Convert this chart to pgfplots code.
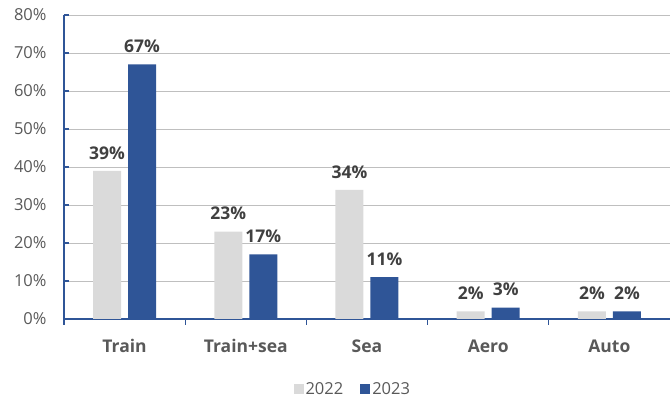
\documentclass[border=0pt]{standalone}
\usepackage{fontspec}
\setmainfont{Open Sans}
\usepackage{pgfplots}
\pgfplotsset{compat=1.18}
\definecolor{gr}{HTML}{DADADA}
\definecolor{bl}{HTML}{2F5597}
\definecolor{grid}{HTML}{D9D9D9}
\definecolor{txt}{HTML}{595959}
\definecolor{lbl}{HTML}{404040}
\begin{document}
\begin{tikzpicture}
\path[use as bounding box] (-64pt,-79pt) rectangle (606pt,319pt);
\begin{axis}[
  scale only axis, width=606pt, height=304pt,
  anchor=south west, at={(0pt,0pt)},
  ybar=7pt, bar width=28pt,
  xmin=-0.5, xmax=4.5, ymin=0, ymax=80,
  axis x line*=bottom, axis y line*=left,
  axis line style={bl, line width=1.1pt},
  xtick={0,1,2,3,4}, xticklabels={Train,Train+sea,Sea,Aero,Auto},
  major x tick style={draw=none},
  extra x ticks={-0.5,0.5,1.5,2.5,3.5},
  extra x tick labels={},
  extra x tick style={grid=none, xtick align=outside, major tick length=6pt,
    major x tick style={draw=bl, line width=1.1pt}},
  xmajorgrids=false, xminorgrids=false,
  ytick={0,10,...,80},
  ytick align=inside,
  major y tick style={bl, line width=1.1pt},
  major tick length=5pt,
  ymajorgrids, major grid style={grid, line width=0.9pt},
  /pgf/number format/assume math mode=true,
  yticklabel={\pgfmathprintnumber{\tick}\%},
  yticklabel style={font=\fontsize{16.5}{19}\selectfont, text=txt, xshift=-14pt},
  xticklabel style={font=\bfseries\fontsize{17.5}{21}\selectfont, text=txt, yshift=-12pt},
  nodes near coords={\pgfmathprintnumber{\pgfplotspointmeta}\%},
  every node near coord/.append style={font=\bfseries\fontsize{17.5}{21}\selectfont, text=lbl, yshift=8pt},
  legend style={at={(0.4765,-0.23)}, anchor=center, draw=none, fill=none,
    legend columns=2, font=\fontsize{16.5}{19}\selectfont, text=txt,
    /tikz/every even column/.append style={column sep=15pt}},
  legend image code/.code={\fill[#1] (0pt,-5pt) rectangle (10pt,5pt);},
]
\addplot[fill=gr, draw=none] coordinates {(0,39) (1,23) (2,34) (3,2) (4,2)};
\addplot[fill=bl, draw=none] coordinates {(0,67) (1,17) (2,11) (3,3) (4,2)};
\legend{2022,2023}
\end{axis}
\end{tikzpicture}
\end{document}
